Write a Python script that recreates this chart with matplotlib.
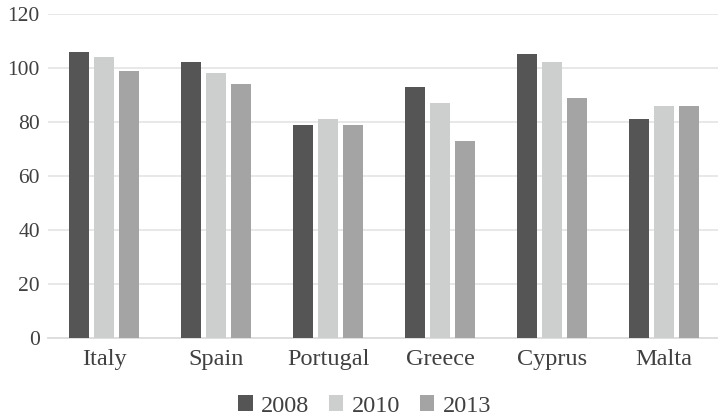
import matplotlib
matplotlib.use('Agg')
import matplotlib.pyplot as plt
import numpy as np

countries = ['Italy', 'Spain', 'Portugal', 'Greece', 'Cyprus', 'Malta']
years = ['2008', '2010', '2013']
values2008 = [106, 102, 79, 93, 105, 81]
values2010 = [104, 98, 81, 87, 102, 86]
values2013 = [99, 94, 79, 73, 89, 86]
colors = ['#555555', '#cdcfce', '#a3a4a3']

plt.rcParams['font.family'] = ['Liberation Serif', 'DejaVu Serif']

fig = plt.figure(figsize=(7.18, 4.19), dpi=100)
ax = fig.add_axes([0.067, 0.193, 0.936, 0.774])

x = np.arange(len(countries))
width = 0.179
step = 0.223
for i, vals in enumerate([values2008, values2010, values2013]):
    ax.bar(x + (i - 1) * step, vals, width, color=colors[i], label=years[i], zorder=3)

ax.set_xlim(-0.5, len(countries) - 0.5)
ax.set_ylim(0, 120)
ax.set_yticks(range(0, 121, 20))
ax.set_xticks(x)
ax.set_xticklabels(countries)
ax.yaxis.grid(True, color='#e6e6e6', linewidth=1.3, zorder=0)
ax.tick_params(axis='both', length=0, colors='#404040')
ax.tick_params(axis='y', pad=6, labelsize=15.5)
ax.tick_params(axis='x', pad=8, labelsize=17.5)
for s in ['top', 'right', 'left']:
    ax.spines[s].set_visible(False)
ax.spines['bottom'].set_color('#dcdcdc')
ax.spines['bottom'].set_linewidth(1.3)

handles, labels = ax.get_legend_handles_labels()
fig.legend(handles, labels, loc='center', bbox_to_anchor=(0.508, 0.031), ncol=3,
           frameon=False, fontsize=17.5, handlelength=0.6, handleheight=0.6,
           handletextpad=0.35, columnspacing=0.8, labelcolor='#404040',
           borderpad=0, borderaxespad=0)

fig.savefig('out.png', dpi=100)
